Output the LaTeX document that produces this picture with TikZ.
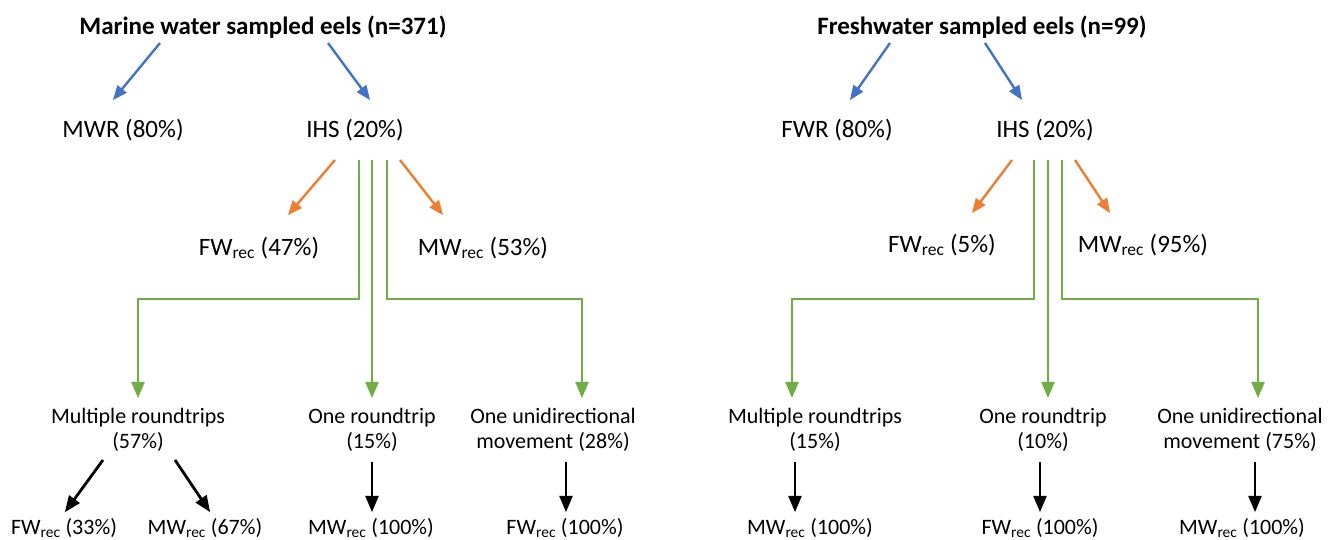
\documentclass[tikz,border=0pt]{standalone}
\usepackage{fontspec}
\setmainfont{Carlito}
\usepackage{tikz}
\usetikzlibrary{arrows}

\definecolor{arrblue}{HTML}{4472C4}
\definecolor{arrorange}{HTML}{ED7D31}
\definecolor{arrgreen}{HTML}{70AD47}

\newcommand{\recsub}{\textsubscript{rec}}

\begin{document}
\begin{tikzpicture}[x=1pt,y=-1pt,>=triangle 45,
    lbl/.style={font=\fontsize{25}{26}\selectfont,align=center,inner sep=1pt},
    sublbl/.style={lbl,font=\fontsize{22}{25}\selectfont},
    ttl/.style={lbl,font=\fontsize{25}{26}\selectfont\bfseries},
    bluearr/.style={->,draw=arrblue,line width=2.4pt},
    orangearr/.style={->,draw=arrorange,line width=2.4pt},
    greenarr/.style={->,draw=arrgreen,line width=2.8pt},
    blackarr/.style={->,draw=black,line width=2.8pt}]
        \useasboundingbox (0,0) rectangle (1333,540);

        % marine water side
        \node[ttl] (mtitle) at (263,27) {Marine water sampled eels (n=371)};
        \node[lbl] (mwr) at (123,130) {MWR (80\%)};
        \node[lbl] (mihs) at (355,130) {IHS (20\%)};
        \node[lbl] (mfw) at (259,248) {FW\recsub{} (47\%)};
        \node[lbl] (mmw) at (483,248) {MW\recsub{} (53\%)};
        \node[sublbl] (mmulti) at (138,430) {Multiple roundtrips\\(57\%)};
        \node[sublbl] (mone) at (372,430) {One roundtrip\\(15\%)};
        \node[sublbl] (muni) at (553,430) {One unidirectional\\movement (28\%)};
        \node[sublbl] (mmultifw) at (64,528) {FW\recsub{} (33\%)};
        \node[sublbl] (mmultimw) at (205,528) {MW\recsub{} (67\%)};
        \node[sublbl] (monemw) at (371,528) {MW\recsub{} (100\%)};
        \node[sublbl] (munifw) at (565,528) {FW\recsub{} (100\%)};

        \draw[bluearr] ([shift={(-103,16)}]mtitle.center) -- ([shift={(-10,-30)}]mwr.center);
        \draw[bluearr] ([shift={(65,16)}]mtitle.center) -- ([shift={(15,-30)}]mihs.center);
        \draw[orangearr] ([shift={(-20,30)}]mihs.center) -- ([shift={(29,-33)}]mfw.center);
        \draw[orangearr] ([shift={(45,30)}]mihs.center) -- ([shift={(-40,-33)}]mmw.center);
        \draw[greenarr] ([shift={(4,30)}]mihs.center) -- ++(0,139) -| ([shift={(0,-32)}]mmulti.center);
        \draw[greenarr] ([shift={(17,30)}]mihs.center) -- ([shift={(0,-32)}]mone.center);
        \draw[greenarr] ([shift={(32,30)}]mihs.center) -- ++(0,139) -| ([shift={(29,-32)}]muni.center);
        \draw[blackarr] ([shift={(-35,30)}]mmulti.center) -- ([shift={(1,-16)}]mmultifw.center);
        \draw[blackarr] ([shift={(37,30)}]mmulti.center) -- ([shift={(5,-16)}]mmultimw.center);
        \draw[blackarr] ([shift={(0,32)}]mone.center) -- ([shift={(1,-16)}]monemw.center);
        \draw[blackarr] ([shift={(13,32)}]muni.center) -- ([shift={(1,-16)}]munifw.center);

        % freshwater side
        \node[ttl] (ftitle) at (982,27) {Freshwater sampled eels (n=99)};
        \node[lbl] (fwr) at (837,130) {FWR (80\%)};
        \node[lbl] (fihs) at (1045,130) {IHS (20\%)};
        \node[lbl] (ffw) at (942,245) {FW\recsub{} (5\%)};
        \node[lbl] (fmw) at (1143,245) {MW\recsub{} (95\%)};
        \node[sublbl] (fmulti) at (815,430) {Multiple roundtrips\\(15\%)};
        \node[sublbl] (fone) at (1043,430) {One roundtrip\\(10\%)};
        \node[sublbl] (funi) at (1240,430) {One unidirectional\\movement (75\%)};
        \node[sublbl] (fmultimw) at (810,528) {MW\recsub{} (100\%)};
        \node[sublbl] (fonefw) at (1040,528) {FW\recsub{} (100\%)};
        \node[sublbl] (funimw) at (1242,528) {MW\recsub{} (100\%)};

        \draw[bluearr] ([shift={(-92,16)}]ftitle.center) -- ([shift={(13,-30)}]fwr.center);
        \draw[bluearr] ([shift={(3,16)}]ftitle.center) -- ([shift={(-23,-30)}]fihs.center);
        \draw[orangearr] ([shift={(-33,30)}]fihs.center) -- ([shift={(30,-32)}]ffw.center);
        \draw[orangearr] ([shift={(30,30)}]fihs.center) -- ([shift={(-33,-32)}]fmw.center);
        \draw[greenarr] ([shift={(-11,30)}]fihs.center) -- ++(0,139) -| ([shift={(-23,-32)}]fmulti.center);
        \draw[greenarr] ([shift={(3,30)}]fihs.center) -- ([shift={(5,-32)}]fone.center);
        \draw[greenarr] ([shift={(17,30)}]fihs.center) -- ++(0,139) -| ([shift={(18,-32)}]funi.center);
        \draw[blackarr] ([shift={(-20,32)}]fmulti.center) -- ([shift={(-15,-16)}]fmultimw.center);
        \draw[blackarr] ([shift={(-3,32)}]fone.center) -- ([shift={(0,-16)}]fonefw.center);
        \draw[blackarr] ([shift={(15,32)}]funi.center) -- ([shift={(13,-16)}]funimw.center);
      \end{tikzpicture}
\end{document}
